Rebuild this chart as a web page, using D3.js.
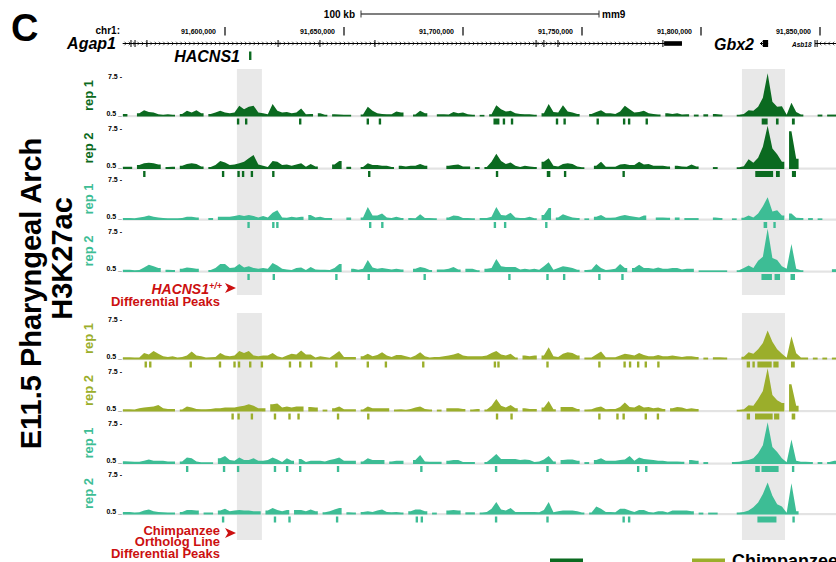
<!DOCTYPE html>
<html><head><meta charset="utf-8">
<script src="https://cdn.jsdelivr.net/npm/d3@7"></script>
<style>body{margin:0;background:#fff}svg{display:block;font-family:"Liberation Sans",Arial,Helvetica,sans-serif}</style>
</head><body><svg id="c" width="836" height="562"></svg>
<script>
// ---------------- DATA ----------------
// genomic positions are in kb relative to chr1:91,600,000 (mm9)
const originBp = 91600000;
const rulerTicksBp = [91600000, 91650000, 91700000, 91750000, 91800000, 91850000];
const scaleBarKb = 100;
const binStartKb = -43;   // first signal bin start
const binSizeKb = 2;      // signal bin width
const trackLabels = ["rep 1","rep 2","rep 1","rep 2","rep 1","rep 2","rep 1","rep 2"];
const trackLines  = ["HACNS1","HACNS1","WT","WT","Chimp","Chimp","WT","WT"];
const axisTicks = ["7.5 -","0.5 _"];

const sig1 = [0.85,0,0,
 1.0,1.5,1.2,1.1,0.8,0.7,0.8,0.7,0,0.85,
 1.4,1.1,1.5,1.0,0,0.85,1.1,1.4,1.1,1.0,
 1.1,2.3,1.7,2.1,2.3,1.1,1.0,0.8,2.6,1.4,
 1.1,1.2,1.0,1.1,1.8,0.8,0.85,0,1.0,0.7,
 0,0.8,0.75,0.7,0.7,0,0,0.75,2.1,1.4,
 1.0,0.85,0.8,0.8,1.3,1.1,0,0,0.75,1.4,
 1.0,0,0,0.8,0.8,0.75,1.2,1.0,1.1,0.8,
 0.7,0,0.7,0,0.8,2.4,1.7,1.3,1.4,1.0,
 0.85,0.8,0.8,0.7,0,1.0,2.6,1.2,1.1,2.4,
 1.3,1.1,0.85,0,0,0.85,1.2,1.5,1.0,1.0,
 0.85,1.3,2.3,1.7,1.1,1.2,1.4,1.0,0.85,0.75,
 0,1.0,0.85,1.0,0.75,0.8,0,0.75,0,0.8,
 0,0.85,0.75,0,0,0,0.7,0.85,1.5,1.4,
 2.1,3.7,8.0,3.0,2.1,2.2,0.7,2.8,1.2,0.75,
 0,0,0,0.75,0,0.75,0.75];
const sig2 = [0.8,0.8,0,
 1.1,1.4,1.5,1.4,1.2,0,0.75,0.8,0,1.0,
 1.3,1.4,1.3,0.85,0,0.75,1.1,1.8,1.55,1.1,
 1.2,1.4,1.7,2.3,2.85,1.2,1.0,0.75,1.8,1.7,
 1.1,1.2,1.0,1.2,1.4,0.8,1.3,0.85,0,0,
 0,1.2,1.8,0,0.8,0,0,0.75,1.4,1.1,
 1.1,1.0,1.0,0.75,0,1.0,0.85,1.0,1.0,1.3,
 1.0,0,0,0,0,1.0,1.1,1.2,0.85,0.85,
 0,0.75,0,0.75,1.7,3.1,1.8,1.3,1.55,1.0,
 0.75,1.0,0.85,0.75,0,1.7,2.3,1.0,0.85,1.3,
 1.4,1.3,0.85,0.7,0,0,1.0,1.7,0.8,0.8,
 0.8,1.2,1.3,1.1,1.1,1.7,1.2,1.3,1.0,1.0,
 1.0,0.85,0,1.0,0.85,0.8,1.2,0.85,0,0,
 0,0.75,0,0,0,0,0.7,0.9,2.1,1.5,
 2.4,4.3,8.0,4.0,3.0,1.7,0,7.0,2.2,0,
 0,0,0,0,0,0,0];
const sig3 = [0.75,0.75,0.7,
 0.85,1.0,1.2,1.0,0.85,0.75,0.7,0.7,0.7,0.75,
 1.0,1.0,0.85,0,0,0.75,0,1.0,1.0,1.0,
 1.1,1.3,1.1,1.3,1.1,0.85,1.1,0.85,1.7,2.1,
 0.85,0.8,1.0,0.85,1.0,0,1.3,0.85,1.0,0.75,
 0.75,0,0,0,0.85,0,0,0.85,2.7,1.2,
 1.2,1.55,0.85,0.75,1.0,0.75,0,0.75,0.7,1.4,
 0.75,0.75,0.7,0,0,0.85,1.2,1.1,0.75,0.75,
 0.7,0,0.75,0.75,1.0,2.7,1.3,1.2,1.7,0.85,
 0.75,0.75,1.0,0.7,0,1.3,2.5,0,0.85,1.4,
 1.1,0.85,0.75,0,0.7,0,1.0,1.3,0.8,0.8,
 0.85,1.1,1.3,1.1,1.0,0.85,1.2,0,0,0.85,
 0.85,0.8,0,0.85,0,0.75,0.75,0.75,0,0,
 0,0.85,0.75,0,0,0.7,0,0.8,1.2,0.85,
 1.55,2.8,4.4,1.9,2.1,1.2,0,1.55,0.8,0.75,
 0,0.75,0,0.7,0,0,0];
const sig4 = [0.8,0.8,0.7,
 0.75,1.2,1.7,1.4,1.1,0,0.8,0.75,0,1.0,
 1.2,1.1,1.0,0,0,0.75,1.1,1.8,1.8,1.1,
 1.2,1.8,1.2,1.4,1.1,1.0,1.1,1.0,2.0,1.55,
 1.0,0.85,0.75,1.1,1.2,0.75,1.3,0.85,0.8,0.8,
 0.75,1.1,1.8,0,0,1.0,0.8,1.0,2.5,1.2,
 1.0,1.1,1.0,0.85,1.0,0.85,0,0,1.0,1.3,
 1.1,0.75,0,0.85,0.85,1.0,1.3,0.85,0,1.0,
 1.0,0.7,0,1.0,1.1,2.7,1.4,1.3,1.3,1.3,
 0.85,1.0,0.85,1.0,0.8,1.4,2.1,0.8,1.1,1.4,
 1.3,1.1,0.8,0,0.75,0.85,1.8,1.1,0.75,0.85,
 1.0,1.8,1.1,0,1.1,1.7,1.1,1.1,1.0,1.2,
 1.0,1.0,1.1,1.1,0.85,1.0,1.0,0,0.7,0.7,
 0.7,0.7,0.7,0.7,0,0,0.7,1.1,1.55,1.1,
 2.4,3.1,8.0,2.85,2.5,1.4,1.0,5.3,1.0,0.7,
 0,0,0,0,0,0,0.9];
const sig5 = [0.8,0.8,0.75,
 0.75,1.55,1.3,1.9,1.4,1.0,0.85,1.0,0.75,0.85,
 1.1,1.8,1.1,1.0,0.75,0.8,0.85,1.55,1.1,1.0,
 1.1,1.9,1.55,1.9,1.1,1.0,1.1,1.1,1.55,1.0,
 0.75,1.1,1.4,1.3,2.0,1.3,1.3,0.75,1.0,0.85,
 0.7,1.3,1.9,0.85,0.85,0.85,0,1.0,1.4,1.0,
 1.2,1.7,1.1,0.85,1.2,1.2,1.0,0.75,1.1,1.7,
 1.0,0.75,0.85,0.85,1.0,1.1,1.3,1.55,1.1,1.0,
 1.0,1.0,1.0,1.1,1.55,1.9,1.3,1.1,1.4,0.75,
 0,1.1,1.0,1.1,0,1.1,2.55,1.0,0.85,1.4,
 1.7,1.55,1.1,0,0.75,0.75,1.3,1.8,0.8,0.8,
 0.8,1.1,1.4,1.3,1.1,1.55,1.2,1.0,1.0,1.2,
 1.0,1.0,1.1,1.0,0.85,1.0,1.0,0.85,0,0.75,
 0,0.8,0.8,0.75,0,0,0,0.9,1.7,1.4,
 2.2,3.3,5.5,3.5,2.2,1.4,0.7,4.5,1.5,0.75,
 0.75,0,0.75,0,0.75,0,0.75];
const sig6 = [0.8,0.8,0.75,
 1.0,1.1,1.2,1.3,1.55,1.0,0.85,0.85,0,0.75,
 1.3,1.1,0.85,0.8,0.8,0.85,1.0,1.0,1.1,1.1,
 1.1,1.3,1.4,1.7,1.4,1.0,1.0,0,1.7,1.8,
 1.1,1.3,1.1,1.3,1.3,0,1.2,1.1,0,0.75,
 0,1.0,1.3,0.8,0.8,0.8,0,0.75,1.3,1.0,
 1.0,1.0,1.0,0,0.75,0.8,0.7,0.85,1.1,1.3,
 0.85,0.75,0,0.75,0,1.0,1.0,1.0,0.85,0,
 0.75,0.85,0,0.75,1.4,2.6,1.4,1.1,1.55,1.0,
 0,1.0,0.85,0.85,0,1.1,2.25,0.8,0,1.2,
 1.2,1.2,0.85,0,0.75,0.8,1.1,1.3,0.8,0.85,
 0.85,1.2,2.0,1.2,1.1,1.55,1.1,1.2,1.0,1.1,
 0.85,0,1.0,1.2,1.1,0.85,1.0,0.85,0,0,
 0,0,0,0,0,0,0.7,0.8,1.5,1.4,
 2.6,4.0,8.0,3.3,2.4,1.9,0,5.2,1.4,0,
 0,0,0,0,0,0,0];
const sig7 = [0.9,0.85,0.8,
 0.8,1.0,1.2,1.0,1.0,1.0,0.85,0.85,0,0.85,
 1.55,1.4,0.85,0.7,0.7,0.7,0,1.4,1.8,1.1,
 1.0,1.55,1.1,1.1,1.4,1.0,1.0,1.1,1.55,1.2,
 0.75,1.4,1.0,0,1.3,0.75,1.0,1.0,1.0,0.85,
 1.1,1.3,1.55,1.0,1.0,1.0,0,0.85,1.4,1.1,
 1.1,1.1,0,0.85,1.0,1.0,0,0,1.1,2.0,
 0.85,0.8,0.8,0.8,0,1.0,1.1,1.1,0.75,0.75,
 0.75,0,0,0.75,1.4,2.15,1.3,1.3,1.3,1.3,
 1.1,1.2,1.1,0.75,0.85,1.2,1.8,0.85,0,1.1,
 1.2,1.2,1.0,0,0.75,0,1.1,1.4,1.0,1.0,
 1.0,1.1,1.2,1.8,1.0,1.55,1.3,1.2,1.1,1.0,
 1.0,0.85,0.85,0.85,0.8,0,1.1,1.0,0,0.75,
 0,0,0,0,0,0.75,0.8,1.0,1.1,1.4,
 2.3,3.7,7.7,3.4,2.5,1.4,0.7,4.7,1.0,0.8,
 0.8,0.75,0,0.75,0,0.75,1.0];
const sig8 = [0.85,0.85,0.75,
 0.8,1.1,1.3,1.0,0.85,0.8,0.75,0.75,0,0.85,
 1.2,1.2,1.1,0,0.75,0.75,0,1.1,1.4,1.0,
 1.1,1.2,1.1,1.1,1.0,1.0,0,1.1,1.55,1.2,
 1.0,1.2,0,1.2,1.2,1.0,1.3,1.0,0,0.8,
 1.0,1.3,1.55,0,0.8,0.75,0,0.85,1.0,0.85,
 1.1,1.3,0.85,0.8,0.85,0.75,0,1.0,1.3,1.3,
 1.0,0,0.75,0,0,1.1,1.2,1.1,0,0.8,
 0.8,0,0.75,0.85,1.4,2.6,1.3,1.1,1.55,0.85,
 0.85,0.85,0.85,0.85,0.8,1.2,2.6,0.8,1.0,1.1,
 1.1,1.1,1.0,0.75,0,0.75,1.8,1.4,0.85,0.85,
 0.8,1.4,1.4,1.1,0.85,1.2,1.2,0.85,0.75,1.0,
 1.0,0.75,1.1,1.1,1.1,1.1,1.0,0,0.75,0,
 0.75,0.75,0,0,0,0,0.75,0.85,1.1,1.7,
 2.5,4.0,6.0,3.7,2.2,1.8,0.7,5.9,1.0,0,
 0,0,0,0,0,0,0];

// called peaks [startKb, endKb]
const peaks1 = [[5.0,6.0],[8.4,9.4],[31.1,32.1],[59.5,60.5],[64.6,65.6],[112.8,115.3],[116.7,117.7],[120.1,121.1],[139.0,140.0],[142.2,143.2],[156.1,157.1],[167.2,168.2],[169.3,170.3],[176.7,177.7],[225.5,228.0],[231.5,232.6],[238.2,239.4]];
const peaks2 = [[-34.4,-33.4],[-1.3,-0.3],[5.2,6.2],[7.1,8.1],[10.8,11.8],[19.8,20.8],[60.1,61.1],[113.8,114.8],[135.2,136.7],[142.4,143.4],[167.0,168.0],[222.8,230.3],[231.5,233.1],[238.2,239.9]];
const peaks3 = [[9.4,10.4],[19.8,20.8],[21.5,22.5],[60.5,61.5],[65.6,66.6],[112.9,113.9],[117.2,118.2],[134.5,135.5],[226.3,227.8],[230.4,231.4]];
const peaks4 = [[9.4,10.4],[20.0,21.0],[46.3,47.3],[59.9,60.9],[83.4,84.4],[119.0,120.0],[135.0,136.0],[142.0,143.0],[156.8,157.8],[166.5,167.5],[225.4,229.8],[230.9,233.2],[237.6,239.5]];
const peaks5 = [[-33.8,-32.8],[-31.9,-30.9],[-14.9,-13.9],[-2.6,-1.6],[3.5,4.5],[5.4,6.4],[10.1,11.1],[15.0,16.0],[26.8,27.8],[31.1,32.1],[35.7,36.7],[46.3,47.3],[59.5,60.5],[67.1,68.1],[82.8,83.8],[112.9,113.9],[114.4,115.4],[135.0,136.0],[156.8,157.8],[167.4,168.4],[169.7,170.7],[173.1,174.1],[176.3,177.3],[181.6,182.6],[219.2,220.6],[221.6,222.6],[223.7,229.7],[230.4,232.6],[237.8,239.4]];
const peaks6 = [[2.7,3.7],[5.2,6.2],[10.8,11.8],[20.5,21.5],[26.6,27.6],[30.4,31.4],[47.0,48.0],[59.7,60.7],[113.8,114.8],[119.9,120.9],[156.8,157.8],[164.4,165.4],[167.0,168.0],[176.3,177.3],[181.4,182.4],[219.2,220.6],[222.7,230.1],[230.7,232.9],[238.1,239.6]];
const peaks7 = [[-16.4,-15.4],[-0.9,0.1],[5.0,6.0],[20.5,21.5],[25.6,26.6],[31.1,32.1],[47.0,48.0],[82.0,83.0],[113.4,114.4],[135.0,136.0],[173.1,174.1],[176.5,177.5],[222.8,224.7],[225.4,232.6],[238.2,239.2]];
const peaks8 = [[-1.3,-0.3],[20.5,21.5],[26.6,27.6],[46.6,47.6],[80.1,81.1],[82.2,83.2],[113.4,114.4],[135.0,136.0],[167.0,168.0],[169.3,170.3],[223.7,231.7],[238.4,239.4]];

const highlightsKb = [[5.0,15.5],[217.2,235.3]];
const hacns1Kb = [10.1,11.1];
const agap1Span = [-43,192], agap1Exons = [-39.5,-37.8,-32.8,22.3,39.9,63.0,130.7,134.0,139.9,184.0], agap1Utr = [184.5,192.0];
const gbx2Span = [224.8,228.2], gbx2Block = [226.0,228.2];
const asb18Span = [247.9,262], asb18Exons = [247.9,248.8];

// ---------------- DRAW ----------------
const COL = {HACNS1:"#0b6a20", WT:"#3dbd95", Chimp:"#9bae2b"};
const RED = "#cc1010";
const signals = [sig1,sig2,sig3,sig4,sig5,sig6,sig7,sig8];
const peaks = [peaks1,peaks2,peaks3,peaks4,peaks5,peaks6,peaks7,peaks8];
const baselines = [116,168.5,219.5,271.5,359,411,463.5,514];
const svg = d3.select("#c");
const x = d3.scaleLinear().domain([0,250]).range([225,820]);
const xb = bp => x((bp-originBp)/1000);
const L = x(binStartKb), R = 836;

svg.append("defs").append("clipPath").attr("id","plotclip").append("rect").attr("x",L).attr("y",0).attr("width",R-L).attr("height",562);

// highlight boxes
const bands = [[69,295],[313,540]];
bands.forEach(b => {
  svg.append("g").selectAll("rect").data(highlightsKb).join("rect")
    .attr("x", d=>x(d[0])).attr("width", d=>x(d[1])-x(d[0]))
    .attr("y", b[0]).attr("height", b[1]-b[0]).attr("fill","#e8e8e8");
});

// title letter
svg.append("text").attr("x",11).attr("y",41).attr("font-size",38).attr("font-weight","bold").text("C");

// scale bar
const sb0 = 361, sb1 = sb0 + (x(scaleBarKb)-x(0));
svg.append("text").attr("x",355).attr("y",17.5).attr("text-anchor","end").attr("font-size",10).attr("font-weight","bold").attr("fill","#000").text(scaleBarKb+" kb");
svg.append("line").attr("x1",sb0).attr("x2",sb1).attr("y1",14).attr("y2",14).attr("stroke","#555").attr("stroke-width",1.3);
[sb0,sb1].forEach(v=>svg.append("line").attr("x1",v).attr("x2",v).attr("y1",10.5).attr("y2",17.5).attr("stroke","#333").attr("stroke-width",1));
svg.append("text").attr("x",sb1+3).attr("y",17.5).attr("font-size",10).attr("font-weight","bold").attr("fill","#000").text("mm9");

// ruler
svg.append("text").attr("x",120).attr("y",34).attr("text-anchor","end").attr("font-size",10).attr("font-weight","bold").attr("fill","#000").text("chr1:");
const fmt = d3.format(",");
const rg = svg.append("g").selectAll("g").data(rulerTicksBp).join("g");
rg.append("line").attr("x1",d=>xb(d)).attr("x2",d=>xb(d)).attr("y1",27).attr("y2",35.5).attr("stroke","#000").attr("stroke-width",1.2);
rg.append("text").attr("x",d=>xb(d)-9).attr("y",34).attr("text-anchor","end").attr("font-size",7).attr("font-weight","bold").attr("fill","#000").text(d=>fmt(d));

// genes
const gy = 43.5;
const gg = svg.append("g");
gg.append("line").attr("x1",x(agap1Span[0])).attr("x2",x(agap1Span[1])).attr("y1",gy).attr("y2",gy).attr("stroke","#000").attr("stroke-width",1);
const chev = d3.range(x(agap1Span[0])+3, x(agap1Utr[0])-2, 4.3);
gg.selectAll("path.ch").data(chev).join("path").attr("class","ch")
  .attr("d", c=>`M${c-1.2},${gy-1.8}L${c+0.6},${gy}L${c-1.2},${gy+1.8}`).attr("fill","none").attr("stroke","#000").attr("stroke-width",0.7);
gg.selectAll("line.ex").data(agap1Exons).join("line").attr("class","ex")
  .attr("x1",d=>x(d)).attr("x2",d=>x(d)).attr("y1",gy-3.5).attr("y2",gy+3.5).attr("stroke","#000").attr("stroke-width",1);
gg.append("rect").attr("x",x(agap1Utr[0])).attr("width",x(agap1Utr[1])-x(agap1Utr[0])).attr("y",gy-2.3).attr("height",4.6).attr("fill","#000");
// Gbx2
gg.append("line").attr("x1",x(gbx2Span[0])).attr("x2",x(gbx2Span[1])).attr("y1",gy).attr("y2",gy).attr("stroke","#000");
gg.append("path").attr("d",`M${x(gbx2Span[0])+2.5},${gy-2}L${x(gbx2Span[0])+0.5},${gy}L${x(gbx2Span[0])+2.5},${gy+2}`).attr("fill","none").attr("stroke","#000").attr("stroke-width",1);
gg.append("rect").attr("x",x(gbx2Block[0])).attr("width",x(gbx2Block[1])-x(gbx2Block[0])).attr("y",gy-3.5).attr("height",7).attr("fill","#000");
// Asb18
gg.append("line").attr("x1",x(asb18Span[0])).attr("x2",R).attr("y1",gy).attr("y2",gy).attr("stroke","#000");
gg.selectAll("line.ex2").data(asb18Exons).join("line").attr("class","ex2")
  .attr("x1",d=>x(d)).attr("x2",d=>x(d)).attr("y1",gy-3.5).attr("y2",gy+3.5).attr("stroke","#000").attr("stroke-width",1);
gg.selectAll("path.ch2").data(d3.range(x(asb18Exons[1])+3, R, 4.3)).join("path").attr("class","ch2")
  .attr("d", c=>`M${c+1.2},${gy-1.8}L${c-0.6},${gy}L${c+1.2},${gy+1.8}`).attr("fill","none").attr("stroke","#000").attr("stroke-width",0.7);
// gene labels
const gl = (t,xx,yy,fs,anchor)=>svg.append("text").attr("x",xx).attr("y",yy).attr("font-size",fs).attr("font-weight","bold").attr("font-style","italic").attr("text-anchor",anchor||"start").text(t);
gl("Agap1",116,48.5,16,"end");
gl("Gbx2",714,49.5,16);
gl("Asb18",792,46.5,6.5);
gl("HACNS1",240,62,16,"end");
svg.append("rect").attr("x",x(hacns1Kb[0])).attr("width",x(hacns1Kb[1])-x(hacns1Kb[0])).attr("y",51.5).attr("height",8.5).attr("fill",COL.HACNS1);

// tracks
signals.forEach((s,k)=>{
  const b = baselines[k], col = COL[trackLines[k]];
  const y = d3.scaleLinear().domain([0.5,7.5]).range([b, b-40]);
  const g = svg.append("g");
  g.append("rect").attr("x",L).attr("width",R-L).attr("y",b-1).attr("height",2.2).attr("fill","#e3e3e3");
  // contiguous runs of covered bins, drawn as filled areas through bin centres
  const runs = [];
  let cur = null;
  s.forEach((v,i)=>{
    if (v>0){ if(!cur){cur=[]; runs.push(cur);} cur.push({v,i}); } else cur=null;
  });
  const area = d3.area().x(d=>d[0]).y0(b+0.5).y1(d=>y(d[1]));
  g.append("g").attr("clip-path","url(#plotclip)").selectAll("path").data(runs).join("path")
    .attr("d", run=>{
      const pts = [[x(binStartKb+run[0].i*binSizeKb), run[0].v]];
      run.forEach(d=>pts.push([x(binStartKb+(d.i+0.5)*binSizeKb), d.v]));
      const last = run[run.length-1];
      pts.push([x(binStartKb+(last.i+1)*binSizeKb), last.v]);
      return area(pts);
    }).attr("fill",col);
  g.selectAll("rect.p").data(peaks[k]).join("rect").attr("class","p")
    .attr("x",d=>x(d[0])).attr("width",d=>Math.max(2.2,x(d[1])-x(d[0]))).attr("y",b+2.5).attr("height",6).attr("fill",col);
  g.append("text").attr("x",122).attr("y",y(7.5)+2.5).attr("text-anchor","end").attr("font-size",7).attr("font-weight","bold").text(axisTicks[0]);
  g.append("text").attr("x",122).attr("y",b-0.5).attr("text-anchor","end").attr("font-size",7).attr("font-weight","bold").text(axisTicks[1]);
  g.append("text").attr("transform",`translate(92.5,${b-20.5}) rotate(-90)`).attr("text-anchor","middle").attr("font-size",13).attr("font-weight","bold").attr("fill",col).text(trackLabels[k]);
});

// big side labels
svg.append("text").attr("transform","translate(41,293.5) rotate(-90)").attr("text-anchor","middle").attr("font-size",29).attr("font-weight","bold").text("E11.5 Pharyngeal Arch");
svg.append("text").attr("transform","translate(71.5,258.5) rotate(-90)").attr("text-anchor","middle").attr("font-size",29).attr("font-weight","bold").text("H3K27ac");

// red annotations
const arrow = (ax,ay)=>svg.append("path").attr("d",`M${ax},${ay-5}L${ax+11},${ay}L${ax},${ay+5}L${ax+3},${ay}Z`).attr("fill",RED);
const h = svg.append("text").attr("x",222).attr("y",294).attr("text-anchor","end").attr("font-size",14).attr("font-weight","bold").attr("font-style","italic").attr("fill",RED);
h.append("tspan").text("HACNS1");
h.append("tspan").attr("font-size",9).attr("dy",-5).text("+/+");
arrow(225,288);
svg.append("text").attr("x",220).attr("y",306).attr("text-anchor","end").attr("font-size",13).attr("font-weight","bold").attr("fill",RED).text("Differential Peaks");
["Chimpanzee","Ortholog Line","Differential Peaks"].forEach((t,i)=>
  svg.append("text").attr("x",220).attr("y",534.5+i*11.7).attr("text-anchor","end").attr("font-size",13).attr("font-weight","bold").attr("fill",RED).text(t));
arrow(225,533);

// legend (cropped at bottom)
svg.append("rect").attr("x",550).attr("y",558.5).attr("width",33).attr("height",10).attr("fill",COL.HACNS1);
svg.append("rect").attr("x",692).attr("y",558.5).attr("width",33).attr("height",10).attr("fill",COL.Chimp);
svg.append("text").attr("x",732).attr("y",567).attr("font-size",18).attr("font-weight","bold").text("Chimpanzee");
</script></body></html>
